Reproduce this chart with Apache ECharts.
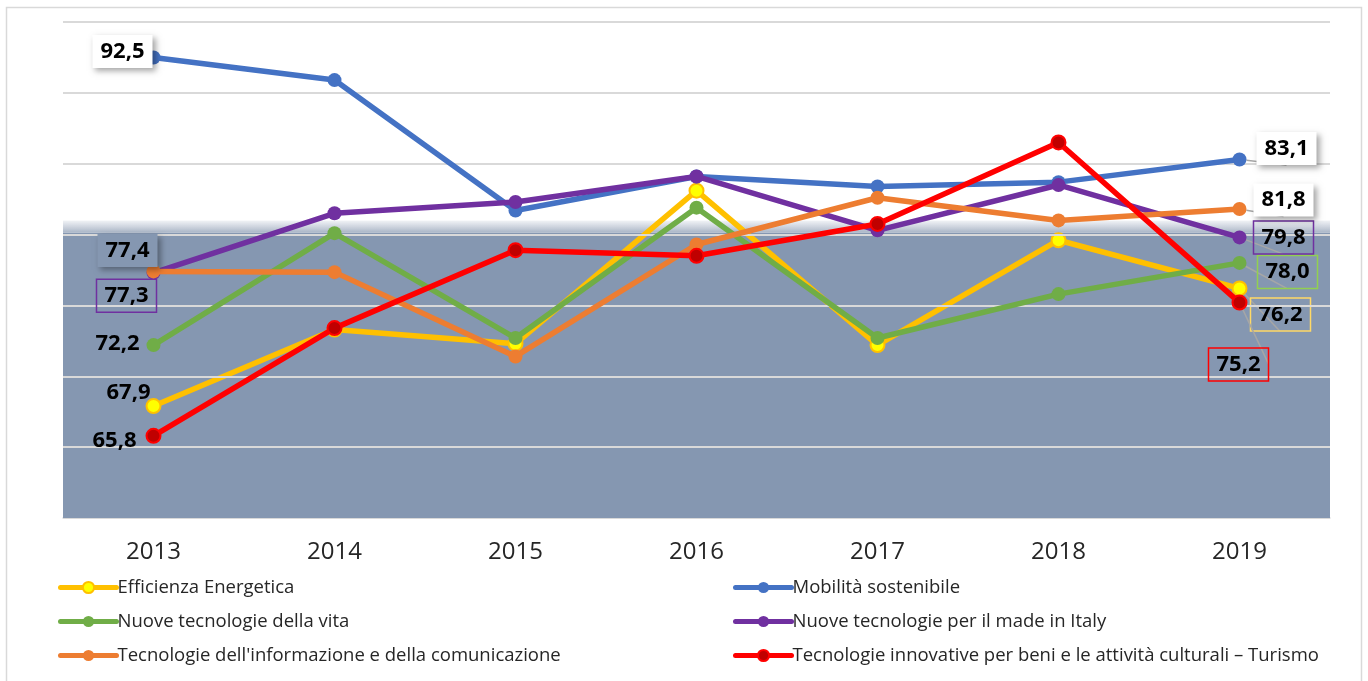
<!DOCTYPE html>
<html>
<head>
<meta charset="utf-8">
<script src="https://cdn.jsdelivr.net/npm/echarts@6/dist/echarts.min.js"></script>
<style>
  html, body { margin: 0; padding: 0; background: #fff; }
  #chart { width: 1368px; height: 681px; }
</style>
</head>
<body>
<div id="chart"></div>
<script>
// dati
const years = ['2013', '2014', '2015', '2016', '2017', '2018', '2019'];
const efficienza = [67.9, 73.3, 72.3, 83.1, 72.2, 79.6, 76.2];
const mobilita = [92.5, 90.9, 81.7, 84.1, 83.4, 83.7, 85.3];
const vita = [72.2, 80.1, 72.7, 81.9, 72.7, 75.8, 78.0];
const madeInItaly = [77.3, 81.5, 82.3, 84.1, 80.3, 83.5, 79.8];
const ict = [77.4, 77.35, 71.4, 79.3, 82.6, 81.0, 81.8];
const turismo = [65.8, 73.4, 78.9, 78.5, 80.75, 86.5, 75.2];
// etichette scritte ai due estremi
const startLabels = ['67,9', '92,5', '72,2', '77,3', '77,4', '65,8'];
const endLabels = ['76,2', '83,1', '78,0', '79,8', '81,8', '75,2'];
const gridValues = [65, 70, 75, 80];
const names = [
    'Efficienza Energetica',
    'Mobilità sostenibile',
    'Nuove tecnologie della vita',
    'Nuove tecnologie per il made in Italy',
    "Tecnologie dell'informazione e della comunicazione",
    'Tecnologie innovative per beni e le attività culturali – Turismo'
];

const FONT = 'Open Sans';
const shaded = '#8597b1';

const chart = echarts.init(document.getElementById('chart'));

// stile base delle etichette
function lbl(text, offset, extra) {
    return Object.assign({
        show: true,
        position: 'inside',
        offset: offset,
        formatter: text,
        fontFamily: FONT,
        fontWeight: 'bold',
        fontSize: 22,
        color: '#000',
        padding: [7, 8, 4, 8]
    }, extra || {});
}
const whiteBox = {
    backgroundColor: '#fff',
    shadowColor: 'rgba(0,0,0,0.35)', shadowBlur: 6, shadowOffsetX: 3, shadowOffsetY: 3
};
const guide = { show: true, lineStyle: { color: '#a6a6a6', width: 1.5 } };

const cfg = [
    {
        color: '#ffc000', data: efficienza, symbolFill: '#ffff00',
        first: lbl(startLabels[0], [-25, -13]),
        last: lbl(endLabels[0], [41, 26], { borderColor: '#ffd966', borderWidth: 1.5 })
    },
    {
        color: '#4472c4', data: mobilita,
        first: lbl(startLabels[1], [-31, -6], whiteBox),
        last: lbl(endLabels[1], [47, -11], whiteBox)
    },
    {
        color: '#70ad47', data: vita,
        first: lbl(startLabels[2], [-36, -1]),
        last: lbl(endLabels[2], [48, 9], { borderColor: '#92d050', borderWidth: 1.5 })
    },
    {
        color: '#7030a0', data: madeInItaly,
        first: lbl(startLabels[3], [-27, 23], { borderColor: '#7030a0', borderWidth: 1.5 }),
        last: lbl(endLabels[3], [44, 0], { borderColor: '#7030a0', borderWidth: 1.5 })
    },
    {
        color: '#ed7d31', data: ict,
        first: lbl(startLabels[4], [-26, -21], {
            backgroundColor: shaded,
            shadowColor: 'rgba(0,0,0,0.35)', shadowBlur: 6, shadowOffsetX: 3, shadowOffsetY: 3
        }),
        last: lbl(endLabels[4], [44, -9], whiteBox)
    },
    {
        color: '#ff0000', data: turismo, symbolFill: '#c00000',
        first: lbl(startLabels[5], [-39, 5]),
        last: lbl(endLabels[5], [-1, 62], { borderColor: '#ff0000', borderWidth: 1.5 })
    }
];

const series = cfg.map(function (c, i) {
    return {
        name: names[i],
        type: 'line',
        z: 3 + i,
        data: c.data.map(function (v, k) {
            const item = { value: v };
            if (k === 0) item.label = c.first;
            if (k === c.data.length - 1) {
                item.label = c.last;
                item.labelLine = guide;
            }
            return item;
        }),
        symbol: 'circle',
        symbolSize: 14,
        showAllSymbol: true,
        lineStyle: { color: c.color, width: 5.5, cap: 'round' },
        itemStyle: {
            color: c.symbolFill || c.color,
            borderColor: c.color,
            borderWidth: c.symbolFill ? 2 : 0
        },
        label: { show: false },
        emphasis: { disabled: true },
        animation: false
    };
});

// fondo grigio-blu
series.push({
    type: 'line',
    data: [],
    z: 0,
    silent: true,
    markArea: {
        silent: true,
        data: [
            [{ yAxis: 60, itemStyle: { color: shaded } }, { yAxis: 80.15 }],
            [{
                yAxis: 80.15,
                itemStyle: {
                    color: new echarts.graphic.LinearGradient(0, 0, 0, 1, [
                        { offset: 0, color: 'rgba(200,208,220,0.25)' },
                        { offset: 0.6, color: '#c9d0db' },
                        { offset: 1, color: '#aab6c7' }
                    ])
                }
            }, { yAxis: 81.0 }]
        ]
    }
});
// linee della griglia sopra il fondo
series.push({
    type: 'line',
    data: [],
    z: 1,
    silent: true,
    markLine: {
        silent: true,
        symbol: 'none',
        label: { show: false },
        lineStyle: { color: '#d9d9d9', width: 2, type: 'solid' },
        data: gridValues.map(function (v) { return { yAxis: v }; })
    }
});

function legendFor(idx, left) {
    return {
        orient: 'vertical',
        left: left,
        top: 573,
        itemWidth: 56,
        itemHeight: 14,
        itemGap: 15,
        data: idx.map(function (i) { return names[i]; }),
        selectedMode: false,
        lineStyle: { width: 5, cap: 'round' },
        textStyle: { fontFamily: FONT, fontSize: 18.5, color: '#262626', padding: [0, 0, 0, -4] }
    };
}

chart.setOption({
    animation: false,
    grid: { left: 63, right: 38, top: 22, bottom: 163 },
    xAxis: {
        type: 'category',
        data: years,
        axisLine: { show: true, lineStyle: { color: '#d9d9d9', width: 1.5 } },
        axisTick: { show: false },
        axisLabel: { fontFamily: FONT, fontSize: 24, color: '#262626', margin: 22 }
    },
    yAxis: {
        type: 'value',
        min: 60,
        max: 95,
        interval: 5,
        axisLabel: { show: false },
        axisLine: { show: false },
        axisTick: { show: false },
        splitLine: { lineStyle: { color: '#d9d9d9', width: 2 } }
    },
    legend: [legendFor([0, 2, 4], 53), legendFor([1, 3, 5], 728)],
    graphic: [{
        type: 'rect',
        shape: { x: 6.5, y: 7.5, width: 1355, height: 700 },
        style: { fill: 'none', stroke: '#d9d9d9', lineWidth: 1.5 },
        silent: true
    }],
    series: series
});
</script>
</body>
</html>
